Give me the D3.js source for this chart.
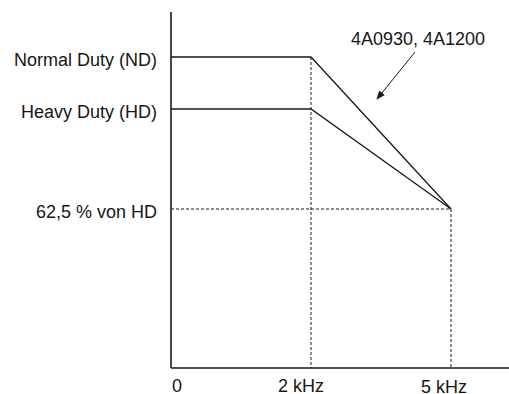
<!DOCTYPE html>
<html>
<head>
<meta charset="utf-8">
<script src="https://cdn.jsdelivr.net/npm/d3@7"></script>
<style>
  html, body { margin: 0; padding: 0; background: #fff; }
  svg { display: block; }
  text { font-family: "Liberation Sans", Arial, sans-serif; fill: #161616; }
</style>
</head>
<body>
<svg id="chart" width="509" height="394"></svg>
<script>
// Switching frequency breakpoints (kHz) and their axis labels
const freqTicks = [0, 2, 5];
const freqLabels = ["0", "2 kHz", "5 kHz"];

// Output current levels, in % of Heavy Duty rating
const levelValues = [120, 100, 62.5];
const levelLabels = ["Normal Duty (ND)", "Heavy Duty (HD)", "62,5 % von HD"];

// Derating curves: current vs. switching frequency
const ndCurve = [[0, 120], [2, 120], [5, 62.5]];
const hdCurve = [[0, 100], [2, 100], [5, 62.5]];

const annotationText = "4A0930, 4A1200";

const svg = d3.select("#chart");

// Schematic (not to scale) axes: piecewise scales put breakpoints where the diagram shows them
const x = d3.scaleLinear().domain([0, 2, 5, 5.95]).range([171, 311, 451, 509]);
const y = d3.scaleLinear().domain([0, 62.5, 100, 120, 141]).range([368, 209, 109, 57, 12]);

const ink = "#1a1a1a";

// Dashed guide lines
const guides = svg.append("g")
  .attr("stroke", ink).attr("stroke-width", 1).attr("stroke-dasharray", "3,2").attr("fill", "none");
guides.append("line")
  .attr("x1", x(2)).attr("x2", x(2)).attr("y1", y(120)).attr("y2", y(0));
guides.append("line")
  .attr("x1", x(5)).attr("x2", x(5)).attr("y1", y(62.5)).attr("y2", y(0));
guides.append("line")
  .attr("x1", x(0)).attr("x2", x(5)).attr("y1", y(62.5)).attr("y2", y(62.5));

// Curves
const line = d3.line().x(d => x(d[0])).y(d => y(d[1]));
svg.selectAll("path.curve")
  .data([ndCurve, hdCurve])
  .join("path")
  .attr("class", "curve")
  .attr("d", line)
  .attr("fill", "none")
  .attr("stroke", ink)
  .attr("stroke-width", 1.3);

// Axes
svg.append("line")
  .attr("x1", x(0)).attr("x2", x(0)).attr("y1", y(141)).attr("y2", y(0))
  .attr("stroke", ink).attr("stroke-width", 1.6);
svg.append("line")
  .attr("x1", x(0)).attr("x2", x(5.95)).attr("y1", y(0)).attr("y2", y(0))
  .attr("stroke", ink).attr("stroke-width", 1.6);

// Level labels on the left
svg.selectAll("text.level")
  .data(levelValues)
  .join("text")
  .attr("class", "level")
  .attr("x", x(0) - 14)
  .attr("y", d => y(d) + 9)
  .attr("text-anchor", "end")
  .attr("font-size", 18)
  .text((d, i) => levelLabels[i]);

// Frequency labels along the bottom
const freqDx = [6, -10, -7];
const freqDy = [24, 24, 25];
svg.selectAll("text.freq")
  .data(freqTicks)
  .join("text")
  .attr("class", "freq")
  .attr("x", (d, i) => x(d) + freqDx[i])
  .attr("y", (d, i) => y(0) + freqDy[i])
  .attr("text-anchor", "middle")
  .attr("font-size", 18)
  .text((d, i) => freqLabels[i]);

// Annotation with arrow
svg.append("defs").append("marker")
  .attr("id", "arrowhead")
  .attr("viewBox", "0 0 10 10")
  .attr("refX", 9).attr("refY", 5)
  .attr("markerWidth", 9).attr("markerHeight", 9)
  .attr("markerUnits", "userSpaceOnUse")
  .attr("orient", "auto")
  .append("path")
  .attr("d", "M0,1 L10,5 L0,9 Z")
  .attr("fill", ink);

svg.append("text")
  .attr("x", 418).attr("y", 45)
  .attr("text-anchor", "middle")
  .attr("font-size", 18)
  .text(annotationText);

svg.append("line")
  .attr("x1", 415).attr("y1", 52)
  .attr("x2", 377).attr("y2", 99)
  .attr("stroke", ink).attr("stroke-width", 1)
  .attr("marker-end", "url(#arrowhead)");
</script>
</body>
</html>
